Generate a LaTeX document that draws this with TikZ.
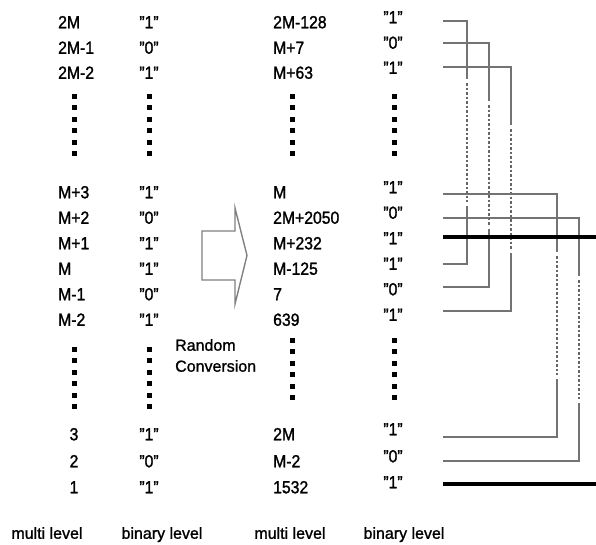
\documentclass[tikz,border=0pt]{standalone}
\usepackage{fontspec}
\setmainfont[FakeBold=1.2]{Liberation Sans}
\newfontfamily\narrowfont[FakeStretch=0.9,FakeBold=1.4]{Liberation Sans}
\usetikzlibrary{calc}
\tikzset{
  levelbox/.style ={font=\narrowfont\fontsize{17.5}{20}\selectfont,inner sep=0pt,
                     text height=12.5pt,text depth=0pt},
  multibox/.style ={levelbox,anchor=west},
  bitbox/.style   ={levelbox,anchor=center},
  footbox/.style  ={font=\fontsize{16}{19}\selectfont,inner sep=0pt,
                     text height=11.5pt,text depth=0pt},
  wire/.style     ={black!55,line width=1.4pt},
  dotwire/.style  ={black!60,line width=1.6pt,dash pattern=on 2.5pt off 2pt},
  busline/.style  ={black,line width=3.2pt},
  convarrow/.style={black!50,line width=1.4pt},
}
\begin{document}
\begin{tikzpicture}[x=1pt,y=-1pt]
\useasboundingbox (0,0) rectangle (596,544);
% ---- before conversion : multi level / binary level ----
\foreach \t/\b/\y [count=\i] in {2M/1/22,2M-1/0/47.5,2M-2/1/72.5,M+3/1/192,M+2/0/217.5,
    M+1/1/243,M/1/268.5,M-1/0/294,M-2/1/319.5}{
  \node[multibox] (ml\i) at (58,\y) {\t};
  \node[bitbox]   (bl\i) at (149,\y) {”\b”};
}
\foreach \t/\b/\y [count=\i from 10] in {3/1/434,2/0/461,1/1/487}{
  \node[bitbox] (ml\i) at (74,\y) {\t};
  \node[bitbox] (bl\i) at (149,\y) {”\b”};
}
% ---- after conversion ----
\foreach \t/\b/\y [count=\i] in {2M-128/1/22,M+7/0/47.5,M+63/1/72.5,M/1/192,2M+2050/0/217.5,
    M+232/1/243,M-125/1/268.5,7/0/294,639/1/319.5,2M/1/434,M-2/0/461,1532/1/487}{
  \node[multibox] (mr\i) at (273,\y) {\t};
  \node[bitbox]   (br\i) at (393,\y-5) {”\b”};
}
% ---- vertical dots ----
\foreach \x in {74,149,292,394} \foreach \k in {0,...,5}
  \fill (\x-2.5,96+11.5*\k-2.5) rectangle ++(5,5);
\foreach \x/\s in {74/349,149/349,292/340,394/340} \foreach \k in {0,...,5}
  \fill (\x-2.5,\s+11.5*\k-2.5) rectangle ++(5,5);
% ---- conversion arrow ----
\draw[convarrow] (202,231) -- (235,231) -- (235,208) -- (247,255.5) -- (235,304)
  -- (235,280) -- (202,280) -- cycle;
\node[font=\fontsize{16}{21}\selectfont,align=left,anchor=west,inner sep=0pt]
  (conv) at (175,355.5) {Random\\Conversion};
% ---- column captions ----
\foreach \t/\x [count=\i] in {multi level/47,binary level/162,multi level/290,binary level/404}
  \node[footbox] (foot\i) at (\x,533) {\t};
% ---- wiring ----
\foreach \n/\y in {1/21,2/43,3/67,4/194,5/218,6/237,7/264,8/287,9/311,10/437,11/461,12/484}
  \coordinate (w\n) at (443,\y);
\foreach \n/\x in {1/467,2/489,3/511,4/557,5/579}
  \coordinate (v\n) at (\x,0);
\coordinate (edge6) at (596,237);
\coordinate (edge12) at (596,484);
\foreach \a/\b/\c in {w1/w7/v1,w2/w8/v2,w3/w9/v3,w4/w10/v4,w5/w11/v5}{
  \draw[wire] (\a) -| ($(\a -| \c)+(0,58)$);
  \draw[dotwire] ($(\a -| \c)+(0,62)$) -- ($(\b -| \c)+(0,-62)$);
  \draw[wire] ($(\b -| \c)+(0,-58)$) |- (\b);
}
\draw[busline] (w6) -- (edge6);
\draw[busline] (w12) -- (edge12);
\end{tikzpicture}
\end{document}
